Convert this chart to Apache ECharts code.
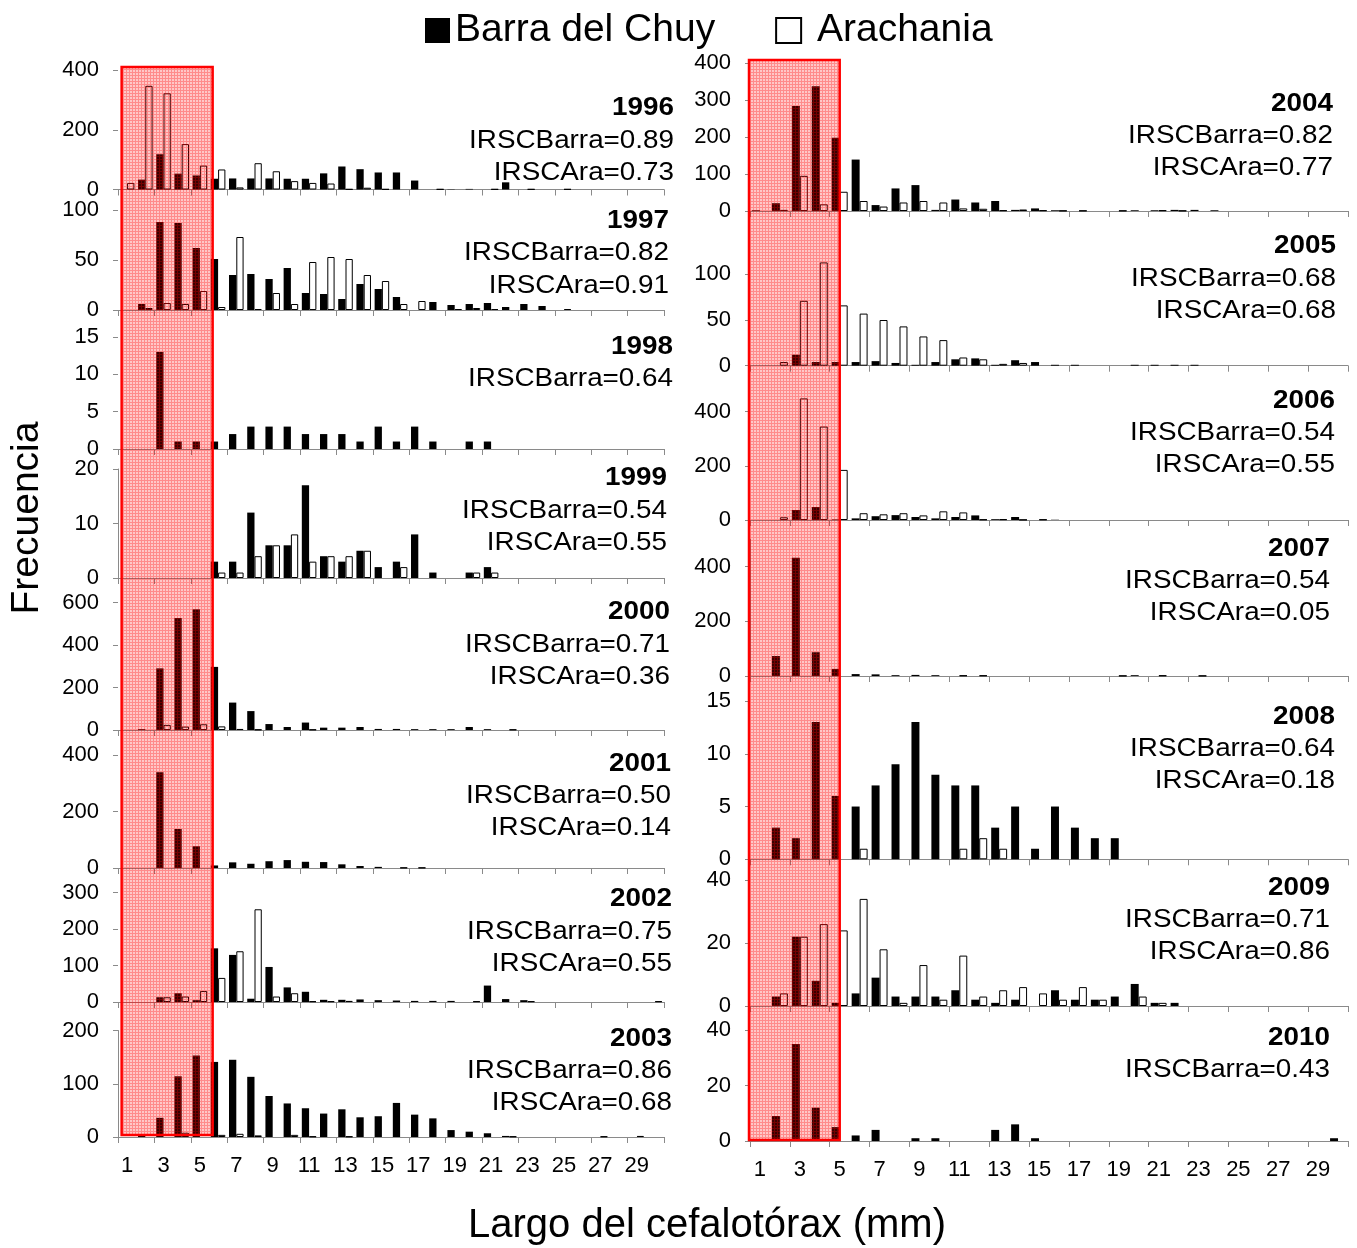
<!DOCTYPE html>
<html>
<head>
<meta charset="utf-8">
<title>Largo del cefalotórax — Barra del Chuy / Arachania</title>
<script src="https://cdn.jsdelivr.net/npm/echarts@6/dist/echarts.min.js"></script>
<style>
  html, body { margin: 0; padding: 0; background: #fff; }
  #chart { width: 1357px; height: 1248px; }
</style>
</head>
<body>
<div id="chart"></div>
<script>
// Size classes of carapace length (mm)
const categories = ['1','2','3','4','5','6','7','8','9','10','11','12','13','14','15',
                    '16','17','18','19','20','21','22','23','24','25','26','27','28','29','30'];

const years = ['1996','1997','1998','1999','2000','2001','2002','2003',
               '2004','2005','2006','2007','2008','2009','2010'];
const irscBarra = ['0.89','0.82','0.64','0.54','0.71','0.50','0.75','0.86',
                   '0.82','0.68','0.54','0.54','0.64','0.71','0.43'];
const irscAra   = ['0.73','0.91',null,'0.55','0.36','0.14','0.55','0.68',
                   '0.77','0.68','0.55','0.05','0.18','0.86',null];

// Frequencies per size class — Barra del Chuy (black) and Arachania (white)
const barra1996 = [0,33,118,53,47,36,37,37,37,36,36,54,77,68,57,57,30,0,1,2,0,24,0,0,0,0,0,0,0,0];
const ara1996   = [22,347,322,152,80,67,7,88,61,28,22,20,1,6,1,0,0,1,0,0,1,0,1,0,1,0,0,0,0,0];
const barra1997 = [0,6,88,87,62,51,35,36,31,42,17,16,11,26,21,13,0,8,5,6,7,3,6,4,0,0,0,0,0,0];
const ara1997   = [0,2,7,6,19,3,73,1,17,6,48,53,51,35,29,6,9,0,1,2,1,0,0,0,1,0,0,0,0,0];
const barra1998 = [0,0,13,1,1,1,2,3,3,3,2,2,2,1,3,1,3,1,0,1,1,0,0,0,0,0,0,0,0,0];
const ara1998   = [0,0,0,0,0,0,0,0,0,0,0,0,0,0,0,0,0,0,0,0,0,0,0,0,0,0,0,0,0,0];
const barra1999 = [0,0,0,0,0,3,3,12,6,6,17,4,3,5,2,3,8,1,0,1,2,0,0,0,0,0,0,0,0,0];
const ara1999   = [0,0,0,0,0,1,1,4,6,8,3,4,4,5,0,2,0,0,0,1,1,0,0,0,0,0,0,0,0,0];
const barra2000 = [0,4,290,527,568,297,129,89,28,14,35,11,11,14,5,5,4,4,4,14,4,0,0,0,0,0,0,0,0,0];
const ara2000   = [0,0,24,16,27,17,5,2,0,0,2,0,0,0,0,0,0,0,0,0,0,2,0,0,0,0,0,0,0,0];
const barra2001 = [0,0,339,138,77,9,20,15,24,28,22,21,13,7,4,0,0,0,0,0,0,0,0,0,0,0,0,0,0,0];
const ara2001   = [0,0,0,0,0,0,0,0,0,0,0,0,0,0,0,1,1,0,0,0,0,0,0,0,0,0,0,0,0,0];
const barra2002 = [0,0,13,24,5,147,129,9,96,40,28,6,6,7,5,4,3,3,3,0,45,8,5,0,0,0,0,0,0,0];
const ara2002   = [0,0,13,15,30,66,139,254,15,24,2,2,3,0,0,0,0,0,0,2,0,0,2,0,0,0,0,0,0,2];
const barra2003 = [0,2,36,114,153,141,145,113,77,63,54,44,52,37,39,64,42,35,13,10,7,2,0,0,0,0,0,0,0,0];
const ara2003   = [0,0,0,8,0,4,6,3,0,4,1,0,1,0,0,0,0,0,0,0,0,1,0,0,0,0,1,0,2,0];
const barra2004 = [2,21,284,337,198,139,16,61,70,3,31,23,27,3,7,2,0,0,0,2,2,3,3,2,0,0,0,0,0,0];
const ara2004   = [0,3,95,18,52,27,12,23,27,23,7,6,2,4,2,1,1,0,1,0,2,1,0,0,0,0,0,0,0,0];
const barra2005 = [0,0,12,4,4,4,5,3,1,4,7,8,1,6,4,1,1,0,0,1,1,1,1,0,0,0,0,0,0,0];
const ara2005   = [0,4,71,113,66,57,50,43,32,28,9,7,2,3,0,0,0,0,0,0,0,0,0,0,0,0,0,0,0,0];
const barra2006 = [0,0,37,48,2,6,14,18,11,6,11,17,3,11,0,1,0,0,0,0,0,0,0,0,0,0,0,0,0,0];
const ara2006   = [0,10,449,345,185,25,21,25,17,32,28,2,3,1,2,0,0,0,0,0,0,0,0,0,0,0,0,0,0,0];
const barra2007 = [0,73,433,87,26,7,6,3,4,3,0,0,0,0,0,0,0,0,0,3,0,0,0,0,0,0,0,0,0,0];
const ara2007   = [0,0,0,0,0,0,0,0,0,0,2,2,0,0,0,0,0,0,1,0,2,0,1,0,0,0,0,0,0,0];
const barra2008 = [0,3,2,13,6,5,7,9,13,8,7,7,3,5,1,5,3,2,2,0,0,0,0,0,0,0,0,0,0,0];
const ara2008   = [0,0,0,0,0,1,0,0,0,0,1,2,1,0,0,0,0,0,0,0,0,0,0,0,0,0,0,0,0,0];
const barra2009 = [0,3,22,8,1,4,9,3,3,3,5,2,1,2,0,5,2,2,3,7,1,1,0,0,0,0,0,0,0,0];
const ara2009   = [0,4,22,26,24,34,18,1,13,2,16,3,5,6,4,2,6,2,0,3,1,0,0,0,0,0,0,0,0,0];
const barra2010 = [0,9,35,12,5,2,4,0,1,1,0,0,4,6,1,0,0,0,0,0,0,0,0,0,0,0,0,0,0,1];
const ara2010   = [0,0,0,0,0,0,0,0,0,0,0,0,0,0,0,0,0,0,0,0,0,0,0,0,0,0,0,0,0,0];

const barraByYear = [barra1996, barra1997, barra1998, barra1999, barra2000, barra2001, barra2002, barra2003,
                     barra2004, barra2005, barra2006, barra2007, barra2008, barra2009, barra2010];
const araByYear   = [ara1996, ara1997, ara1998, ara1999, ara2000, ara2001, ara2002, ara2003,
                     ara2004, ara2005, ara2006, ara2007, ara2008, ara2009, ara2010];

// Value-axis settings per panel (max, tick step, highest labelled tick)
const yMax      = [400, 100, 15, 20, 600, 400, 300, 200, 400, 150, 500, 500, 15, 40, 40];
const yStep     = [200,  50,  5, 10, 200, 200, 100, 100, 100,  50, 200, 200,  5, 20, 20];
const yLabelMax = [400, 100, 15, 20, 600, 400, 300, 200, 400, 100, 400, 400, 15, 40, 40];

// ---- layout (pixels) ----
const FONT = '"Liberation Sans", Arial, sans-serif';
const TEXT_STRETCH = 1.07;
const columns = [{ left: 118, width: 546 }, { left: 750, width: 598 }];
const panelLayout = [
  // left column
  { col: 0, top: 70,    base: 189.5, textY: [108, 141, 173],   textRight: 674, yLine: false },
  { col: 0, top: 210,   base: 310,   textY: [221, 253, 286],   textRight: 669, yLine: false },
  { col: 0, top: 337,   base: 449,   textY: [347, 379],        textRight: 673, yLine: false },
  { col: 0, top: 469,   base: 578,   textY: [478, 511, 543],   textRight: 667, yLine: true },
  { col: 0, top: 602.5, base: 730,   textY: [612, 645, 677],   textRight: 670, yLine: false },
  { col: 0, top: 755,   base: 868,   textY: [764, 796, 828],   textRight: 671, yLine: false },
  { col: 0, top: 892.5, base: 1002,  textY: [899, 932, 964],   textRight: 672, yLine: false },
  { col: 0, top: 1030.5,base: 1137,  textY: [1039, 1071, 1103],textRight: 672, yLine: true },
  // right column
  { col: 1, top: 63,    base: 211,   textY: [104, 136, 168],   textRight: 1333, yLine: false },
  { col: 1, top: 228.6, base: 365.7, textY: [246, 279, 311],   textRight: 1336, yLine: false },
  { col: 1, top: 384.6, base: 520,   textY: [401, 433, 465],   textRight: 1335, yLine: false },
  { col: 1, top: 539.4, base: 676,   textY: [549, 581, 613],   textRight: 1330, yLine: true },
  { col: 1, top: 701,   base: 859.3, textY: [717, 749, 781],   textRight: 1335, yLine: false },
  { col: 1, top: 880,   base: 1006,  textY: [888, 920, 952],   textRight: 1330, yLine: false },
  { col: 1, top: 1030,  base: 1141,  textY: [1038, 1070],      textRight: 1330, yLine: false }
];
const bottomPanels = [7, 14];
// highlighted size range, in category units (1 = centre of class "1")
const bandRange = [[0.70, 5.70], [0.45, 5.00]];
const columnPanels = [[0, 7], [8, 14]];   // first and last panel of each column

const AXIS_GREY = '#8a8a8a';

const grids = [], xAxes = [], yAxes = [], series = [], texts = [];

panelLayout.forEach((p, i) => {
  const col = columns[p.col];
  grids.push({ left: col.left, width: col.width, top: p.top, height: p.base - p.top, containLabel: false });

  const isBottom = bottomPanels.indexOf(i) >= 0;
  xAxes.push({
    type: 'category', gridIndex: i, data: categories, boundaryGap: true,
    axisLine: { show: true, lineStyle: { color: AXIS_GREY, width: 1 } },
    axisTick: { show: true, interval: 1, length: 6, lineStyle: { color: AXIS_GREY } },
    axisLabel: { show: isBottom, interval: 1, fontSize: 22, fontFamily: FONT, color: '#000', margin: 18 },
    splitLine: { show: false }
  });

  const step = yStep[i];
  const shown = [];
  for (let v = 0; v <= yLabelMax[i]; v += step) shown.push(v);
  yAxes.push({
    type: 'value', gridIndex: i, min: 0, max: yMax[i], interval: step,
    axisLine: { show: p.yLine, lineStyle: { color: AXIS_GREY, width: 1 } },
    axisTick: { show: true, length: 5, customValues: shown, lineStyle: { color: AXIS_GREY } },
    axisLabel: { fontSize: 22, fontFamily: FONT, color: '#000', margin: 19, customValues: shown },
    splitLine: { show: false }
  });

  series.push({
    type: 'bar', name: 'Barra del Chuy', xAxisIndex: i, yAxisIndex: i,
    data: barraByYear[i].map(v => v === 0 ? '-' : v),
    barGap: '0%', barCategoryGap: '20%',
    itemStyle: { color: '#000' }, silent: true
  });
  series.push({
    type: 'bar', name: 'Arachania', xAxisIndex: i, yAxisIndex: i,
    data: araByYear[i].map(v => v === 0 ? '-' : v),
    barGap: '0%', barCategoryGap: '20%',
    itemStyle: { color: '#fff', borderColor: '#000', borderWidth: 1 }, silent: true
  });

  // Year and IRSC annotations, right-aligned in each panel
  const lines = [{ t: years[i], bold: true }, { t: 'IRSCBarra=' + irscBarra[i] }];
  if (irscAra[i] !== null) lines.push({ t: 'IRSCAra=' + irscAra[i] });
  lines.forEach((ln, k) => {
    texts.push({
      type: 'text', x: p.textRight, y: p.textY[k], scaleX: TEXT_STRETCH, z: 120, silent: true,
      style: {
        text: ln.t, fill: '#000',
        font: (ln.bold ? 'bold ' : '') + '26px ' + FONT,
        align: 'right', textAlign: 'right', verticalAlign: 'middle', textVerticalAlign: 'middle'
      }
    });
  });
});

// Axis titles
texts.push({
  type: 'text', x: 707, y: 1226, silent: true,
  style: { text: 'Largo del cefalotórax (mm)', fill: '#000', font: '40px ' + FONT,
           align: 'center', textAlign: 'center', verticalAlign: 'middle', textVerticalAlign: 'middle' }
});
texts.push({
  type: 'text', x: 27, y: 518, rotation: Math.PI / 2, silent: true,
  style: { text: 'Frecuencia', fill: '#000', font: '39px ' + FONT,
           align: 'center', textAlign: 'center', verticalAlign: 'middle', textVerticalAlign: 'middle' }
});

const chart = echarts.init(document.getElementById('chart'), null, { renderer: 'canvas' });
chart.setOption({
  animation: false,
  backgroundColor: '#fff',
  legend: {
    left: 425, top: 11, padding: 0, icon: 'rect', itemWidth: 25, itemHeight: 25, itemGap: 60,
    selectedMode: false,
    data: [
      { name: 'Barra del Chuy', itemStyle: { color: '#000', borderWidth: 0 } },
      { name: 'Arachania', itemStyle: { color: '#fff', borderColor: '#000', borderWidth: 2 } }
    ],
    formatter: n => n === 'Arachania' ? ' ' + n : n,
    textStyle: { fontSize: 39, fontFamily: FONT, color: '#000' }
  },
  grid: grids, xAxis: xAxes, yAxis: yAxes, series: series,
  graphic: texts
});

// Red hatched band over the smallest size classes, spanning every panel of a column
function makeHatch() {
  const c = document.createElement('canvas');
  c.width = 3; c.height = 3;
  const g = c.getContext('2d');
  g.fillStyle = 'rgba(255,0,0,0.22)';
  g.fillRect(0, 0, 3, 3);
  g.fillStyle = 'rgba(255,0,0,0.30)';
  g.fillRect(0, 0, 3, 1);
  g.fillRect(0, 1, 1, 2);
  return c;
}
const hatch = makeHatch();
const bands = columnPanels.map(([first, last], c) => {
  const x1 = chart.convertToPixel({ xAxisIndex: first }, 0);
  const x2 = chart.convertToPixel({ xAxisIndex: first }, 1);
  const stepPx = x2 - x1;
  const xa = x1 + (bandRange[c][0] - 1) * stepPx;
  const xb = x1 + (bandRange[c][1] - 1) * stepPx;
  const yTop = chart.convertToPixel({ yAxisIndex: first }, yMax[first]) - 3;
  const yBot = chart.convertToPixel({ yAxisIndex: last }, 0) - (c === 0 ? 2 : 1);
  return {
    type: 'rect', z: 110, silent: true,
    shape: { x: xa, y: yTop, width: xb - xa, height: yBot - yTop },
    style: { fill: { image: hatch, repeat: 'repeat' }, stroke: '#ff0000', lineWidth: 2.5 }
  };
});
chart.setOption({ graphic: texts.concat(bands) });
</script>
</body>
</html>
